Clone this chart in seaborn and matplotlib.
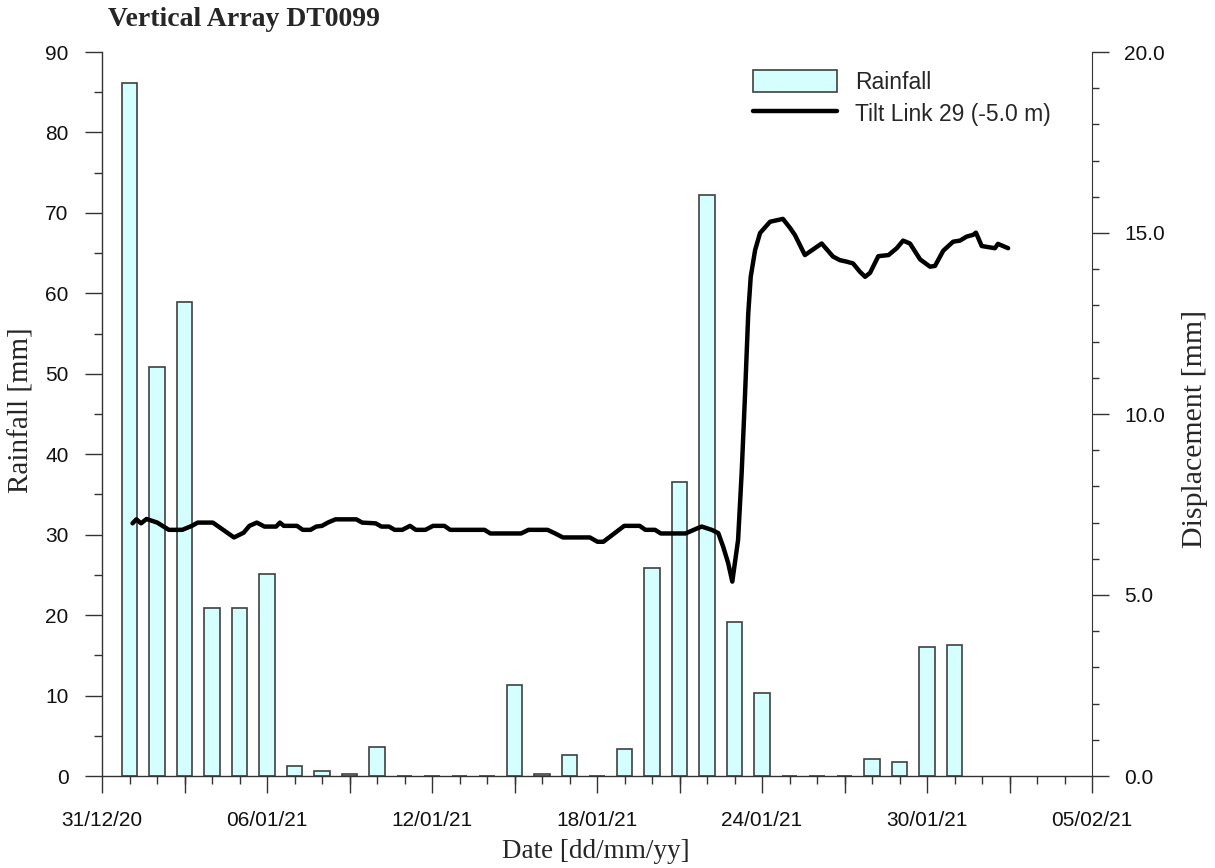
import matplotlib
matplotlib.use("Agg")
import matplotlib.pyplot as plt
import seaborn as sns
from matplotlib.patches import Patch
from matplotlib.lines import Line2D
from matplotlib.ticker import MultipleLocator, FixedLocator, FixedFormatter, FormatStrFormatter, NullFormatter

# ---- data ----
# days counted from 31/12/20 (day 0)
rain_days = list(range(1, 32))  # 01/01/21 .. 31/01/21
rain_mm = [86.2, 50.8, 58.9, 20.9, 20.9, 25.1, 1.2, 0.6, 0.3, 3.6,
           0.0, 0.0, 0.0, 0.0, 11.3, 0.3, 2.6, 0.0, 3.4, 25.8,
           36.5, 72.2, 19.2, 10.3, 0.0, 0.0, 0.0, 2.1, 1.8, 16.0, 16.3]

disp_days = [1.11, 1.25, 1.42, 1.62, 2.01, 2.43, 2.92, 3.27, 3.48, 4.03,
             4.80, 5.15, 5.36, 5.63, 5.91, 6.33, 6.47, 6.61, 7.09, 7.30,
             7.58, 7.79, 8.00, 8.21, 8.49, 9.25, 9.46, 9.95, 10.16, 10.44,
             10.64, 10.92, 11.20, 11.41, 11.76, 12.04, 12.45, 12.66, 13.91, 14.12,
             15.24, 15.51, 16.20, 16.48, 16.76, 17.74, 18.02, 18.23, 18.99, 19.55,
             19.76, 20.11, 20.32, 21.22, 21.64, 21.81, 22.17, 22.41, 22.59, 22.77,
             22.92, 23.13, 23.26, 23.38, 23.50, 23.59, 23.75, 23.93, 24.29, 24.76,
             25.02, 25.20, 25.56, 26.17, 26.58, 26.83, 27.07, 27.31, 27.56, 27.75,
             27.93, 28.23, 28.60, 28.90, 29.13, 29.38, 29.75, 30.11, 30.29, 30.59,
             30.95, 31.20, 31.44, 31.68, 31.78, 31.99, 32.47, 32.58, 32.95]
disp_mm = [6.98, 7.09, 6.98, 7.10, 7.00, 6.80, 6.80, 6.91, 7.00, 7.00,
           6.59, 6.72, 6.91, 7.00, 6.89, 6.89, 7.00, 6.91, 6.91, 6.80,
           6.80, 6.89, 6.91, 7.00, 7.09, 7.09, 7.00, 6.98, 6.89, 6.89,
           6.80, 6.80, 6.91, 6.80, 6.80, 6.91, 6.91, 6.80, 6.80, 6.70,
           6.70, 6.80, 6.80, 6.70, 6.59, 6.59, 6.47, 6.47, 6.91, 6.91,
           6.80, 6.80, 6.70, 6.70, 6.84, 6.89, 6.80, 6.71, 6.33, 5.88,
           5.37, 6.52, 8.37, 10.48, 12.78, 13.79, 14.53, 15.00, 15.31, 15.39,
           15.14, 14.94, 14.39, 14.71, 14.35, 14.25, 14.21, 14.16, 13.93, 13.79,
           13.90, 14.36, 14.39, 14.58, 14.79, 14.71, 14.27, 14.07, 14.09, 14.51,
           14.76, 14.79, 14.90, 14.95, 15.01, 14.64, 14.58, 14.70, 14.58]

x_tick_pos = [0, 6, 12, 18, 24, 30, 36]
x_tick_labels = ["31/12/20", "06/01/21", "12/01/21", "18/01/21",
                 "24/01/21", "30/01/21", "05/02/21"]

title = "Vertical Array DT0099"
bar_label = "Rainfall"
line_label = "Tilt Link 29 (-5.0 m)"

# ---- style ----
sns.set_style("ticks")
plt.rcParams["font.family"] = ["Liberation Sans", "DejaVu Sans"]

fig = plt.figure(figsize=(12.15, 8.68), dpi=100)
ax = fig.add_axes([102 / 1215, 1 - 776 / 868, 990 / 1215, 724 / 868])

bar_fill = "#D5FFFF"
bar_edge = "#404040"
tick_col = "#333333"

sns.barplot(x=rain_days, y=rain_mm, native_scale=True, width=0.55,
            color=bar_fill, saturation=1, edgecolor=bar_edge, linewidth=1.2,
            ax=ax)

ax.set_xlim(0, 36)
ax.set_ylim(0, 90)
ax.xaxis.set_major_locator(FixedLocator(x_tick_pos))
ax.xaxis.set_major_formatter(FixedFormatter(x_tick_labels))
ax.xaxis.set_minor_locator(MultipleLocator(1))
ax.yaxis.set_major_locator(MultipleLocator(10))
ax.yaxis.set_minor_locator(MultipleLocator(5))
ax.tick_params(axis="x", which="major", length=12, width=1, direction="out",
               labelsize=15, pad=13, color=tick_col, labelcolor="#111111")
ax.tick_params(axis="x", which="minor", length=6, width=1, direction="out",
               color=tick_col)
ax.tick_params(axis="y", which="major", length=12, width=1, direction="out",
               labelsize=15, pad=12, color=tick_col, labelcolor="#111111")
ax.tick_params(axis="y", which="minor", length=6, width=1, direction="out",
               color=tick_col)
for s in ["left", "bottom"]:
    ax.spines[s].set_color(tick_col)
    ax.spines[s].set_linewidth(1.0)
ax.spines["top"].set_visible(False)
ax.spines["right"].set_visible(False)

# long unlabeled ticks every 3 days between the labelled ones
ax_sec = ax.secondary_xaxis("bottom")
ax_sec.xaxis.set_major_locator(FixedLocator([3, 9, 15, 21, 27, 33]))
ax_sec.xaxis.set_major_formatter(NullFormatter())
ax_sec.tick_params(axis="x", which="major", length=12, width=1,
                   direction="out", color=tick_col)
ax_sec.spines["bottom"].set_visible(False)

ax.set_xlabel("Date [dd/mm/yy]", fontfamily="Liberation Serif", fontsize=19.5)
ax.xaxis.set_label_coords(0.499, -0.087)
ax.set_ylabel("Rainfall [mm]", fontfamily="Liberation Serif", fontsize=21)
ax.yaxis.set_label_coords(-0.068, 0.505)

ax2 = ax.twinx()
sns.lineplot(x=disp_days, y=disp_mm, sort=False, color="black", linewidth=3.2,
             ax=ax2, solid_joinstyle="round", solid_capstyle="round")
ax2.set_ylim(0, 20)
ax2.set_xlim(0, 36)
ax2.yaxis.set_major_locator(MultipleLocator(5))
ax2.yaxis.set_minor_locator(MultipleLocator(1))
ax2.yaxis.set_major_formatter(FormatStrFormatter("%.1f"))
ax2.tick_params(axis="y", which="major", length=12, width=1, direction="out",
                labelsize=15, pad=11, color=tick_col, labelcolor="#111111")
ax2.tick_params(axis="y", which="minor", length=5, width=1, direction="out",
                color=tick_col)
ax2.spines["top"].set_visible(False)
ax2.spines["left"].set_visible(False)
ax2.spines["bottom"].set_visible(False)
ax2.spines["right"].set_color(tick_col)
ax2.set_ylabel("Displacement [mm]", fontfamily="Liberation Serif", fontsize=21.5)
ax2.yaxis.set_label_coords(1.091, 0.48)

handles = [Patch(facecolor=bar_fill, edgecolor=bar_edge, linewidth=1.2),
           Line2D([0], [0], color="black", linewidth=3.2)]
ax2.legend(handles, [bar_label, line_label], loc="upper left",
           bbox_to_anchor=(0.6576, 0.975), frameon=False, fontsize=16.5,
           borderpad=0, borderaxespad=0,
           handlelength=3.65, handleheight=1.1, labelspacing=0.35,
           handletextpad=0.8)

fig.text(108 / 1215, 1 - 19 / 868, title, fontfamily="Liberation Serif",
         fontweight="bold", fontsize=20, ha="left", va="center")

fig.savefig("out.png", dpi=100)
